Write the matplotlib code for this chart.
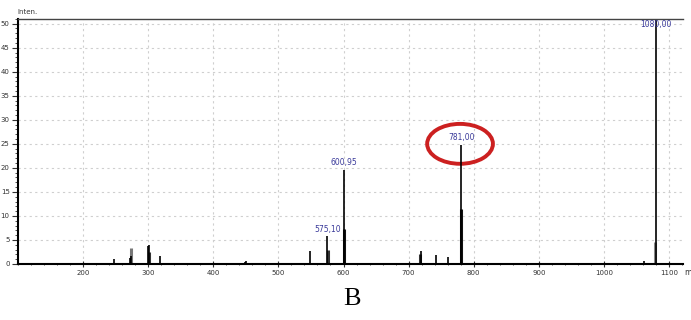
import matplotlib
matplotlib.use("Agg")
import matplotlib.pyplot as plt
from matplotlib.patches import Ellipse
from matplotlib.ticker import MultipleLocator

# peaks (m/z, intensity)
mz_main = [248.0, 271.5, 273.0, 299.5, 300.5, 318.5, 448.0, 450.0, 548.5,
           575.1, 600.95, 719.0, 742.5, 760.0, 781.0, 1061.0, 1080.0]
int_main = [1.0, 1.2, 1.6, 3.8, 4.0, 1.6, 0.4, 0.6, 2.8,
            5.8, 19.6, 2.8, 1.9, 1.5, 24.8, 0.6, 55.0]

# lower companion peaks (drawn thicker / grey)
mz_side = [274.0, 301.5, 576.0, 600.0, 717.5, 780.5, 1079.0]
int_side = [3.3, 2.5, 3.0, 7.3, 2.0, 11.5, 4.5]
side_colors = ["#777777", "#333333", "#333333", "#111111", "#333333", "#111111", "#888888"]

label_mz = [575.1, 600.95, 781.0, 1080.0]
label_y = [6.3, 20.1, 25.3, 48.9]
label_txt = ["575,10", "600,95", "781,00", "1080,00"]

fig = plt.figure(figsize=(6.91, 3.2), dpi=100)
ax = fig.add_axes([0.026, 0.175, 0.962, 0.766])

ax.vlines(mz_side, 0, int_side, colors=side_colors, linewidth=2.2)
ax.vlines(mz_main, 0, int_main, colors="black", linewidth=1.2)

for x, y, t in zip(label_mz, label_y, label_txt):
    ax.text(x, y, t, ha="center", va="bottom", fontsize=5.5, color="#3a3a9a")

# red circle around the 781 peak label
ax.add_patch(Ellipse((779, 25.0), 101, 8.3, fill=False, edgecolor="#cc2020",
                     linewidth=2.8, clip_on=False))

ax.set_xlim(100, 1121)
ax.set_ylim(0, 51)
ax.xaxis.set_major_locator(MultipleLocator(100))
ax.xaxis.set_minor_locator(MultipleLocator(20))
ax.yaxis.set_major_locator(MultipleLocator(5))
ax.yaxis.set_minor_locator(MultipleLocator(1))
ax.grid(True, which="major", linestyle=(0, (2, 3)), color="#cfcfcf", linewidth=0.8)
ax.set_axisbelow(True)

ax.tick_params(axis="both", which="major", labelsize=5, colors="#333333",
               length=4, width=0.8, pad=2)
ax.tick_params(axis="both", which="minor", length=2, width=0.6, colors="#333333")
ax.tick_params(axis="x", which="both", direction="inout")

xt = ax.get_xticks()
ax.set_xticks([t for t in xt if 200 <= t <= 1100])
ax.set_xlim(100, 1121)

for s in ["left", "bottom"]:
    ax.spines[s].set_linewidth(1.5)
ax.spines["top"].set_linewidth(1.0)
ax.spines["top"].set_color("#444444")
ax.spines["right"].set_visible(False)

fig.text(0.025, 0.952, "Inten.", fontsize=5, color="#333333", ha="left", va="bottom")
# axis unit label, only its first letter fits inside the image
fig.text(0.990, 0.148, "m", fontsize=5.5, color="#333333", ha="left", va="center")
fig.text(0.51, 0.065, "B", fontsize=19, family="Liberation Serif", ha="center", va="center")

fig.savefig("out.png", dpi=100, facecolor="white")
